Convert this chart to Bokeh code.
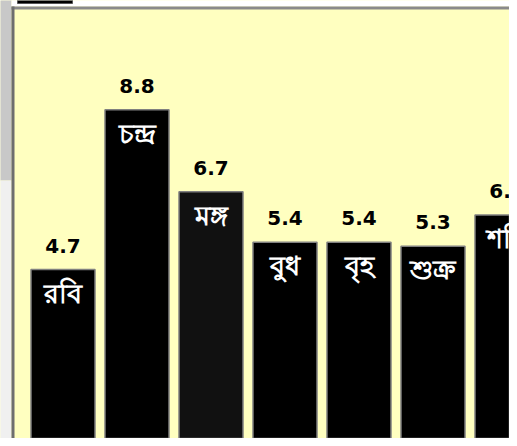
from bokeh.plotting import figure
from bokeh.models import ColumnDataSource, Range1d
from bokeh.core.properties import value
from bokeh.embed import file_html
from bokeh.resources import INLINE

# Data
days = ["রবি", "চন্দ্র", "মঙ্গ", "বুধ", "বৃহ", "শুক্র", "শনি"]
values = [4.7, 8.8, 6.7, 5.4, 5.4, 5.3, 6.1]
value_labels = ["4.7", "8.8", "6.7", "5.4", "5.4", "5.3", "6.1"]
bar_colors = ["#000000", "#000000", "#111111", "#000000", "#000000", "#000000", "#000000"]

W, H = 509, 438
# pixel <-> data helpers for the (cropped) view
X0, PX = 62.5, 74.0     # pixel centre of first bar, pixels per category
Y0, PY = 452.1, 38.95   # pixel of value 0, pixels per unit


def dx(px):
    return (px - X0) / PX


def dy(py):
    return (Y0 - py) / PY


src = ColumnDataSource(dict(
    x=list(range(len(days))),
    top=values,
    day=days,
    vlabel=value_labels,
    color=bar_colors,
))

p = figure(
    width=W, height=H,
    x_range=Range1d(dx(0), dx(W)),
    y_range=Range1d(dy(H), dy(0)),
    output_backend="svg", toolbar_location=None,
    x_axis_location=None, y_axis_location=None,
    min_border_left=0, min_border_top=0, min_border_right=0, min_border_bottom=0,
    background_fill_color="#ffffc0", border_fill_color="#ffffff",
)
p.outline_line_color = None
p.xgrid.visible = False
p.ygrid.visible = False

# window-like frame decorations (left strip, top strip)
p.quad(left=dx(-2), right=dx(11), top=dy(-2), bottom=dy(180), fill_color="#c8c8c8", line_color=None)
p.quad(left=dx(-2), right=dx(11), top=dy(180), bottom=dy(H + 2), fill_color="#f0f0f0", line_color=None)
p.quad(left=dx(11), right=dx(W + 2), top=dy(-2), bottom=dy(6), fill_color="#ffffff", line_color=None)
p.quad(left=dx(11), right=dx(W + 2), top=dy(6), bottom=dy(9), fill_color="#8a8a8a", line_color=None)
p.quad(left=dx(11), right=dx(14), top=dy(6), bottom=dy(H + 2), fill_color="#6e6e6e", line_color=None)
p.quad(left=dx(17), right=dx(72), top=dy(-2), bottom=dy(3), fill_color="#000000", line_color="#555555")

p.vbar(x="x", top="top", bottom=0, width=0.865, fill_color="color",
       line_color="#808080", line_width=1.5, source=src)

p.text(x="x", y="top", text="vlabel", text_align="center", text_baseline="alphabetic",
       y_offset=-24, text_font=value("DejaVu Sans"), text_font_style="bold",
       text_font_size="20px", text_color="black", source=src)

p.text(x="x", y="top", text="day", text_align="center", text_baseline="top",
       y_offset=4, text_font=value("Noto Sans"), text_font_style="bold",
       text_font_size="27px", text_color="white", source=src)

open("out.html", "w").write(file_html(p, INLINE))
